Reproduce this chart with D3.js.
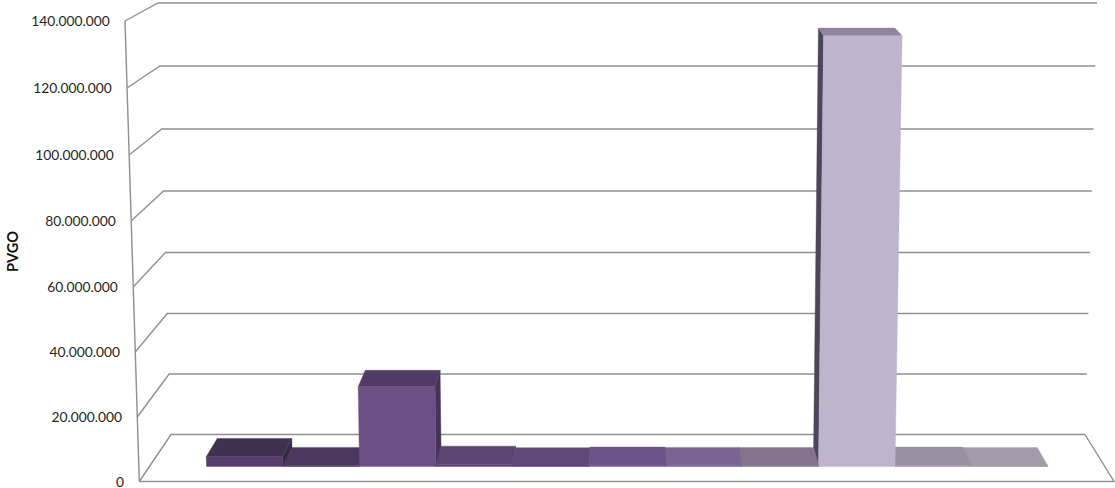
<!DOCTYPE html>
<html><head><meta charset="utf-8">
<script src="https://cdn.jsdelivr.net/npm/d3@7/dist/d3.min.js"></script>
<style>html,body{margin:0;padding:0;background:#fff}svg{display:block}text{font-family:Lato,"Open Sans",sans-serif}</style>
</head><body><svg id="c" width="1115" height="488"></svg>
<script>
const categories = ["1","2","3","4","5","6","7","8","9","10","11"];
const values = [3100000,200000,25200000,600000,100000,300000,200000,200000,133800000,300000,150000];
const tickValues = [0,20000000,40000000,60000000,80000000,100000000,120000000,140000000];
const tickLabels = ["0","20.000.000","40.000.000","60.000.000","80.000.000","100.000.000","120.000.000","140.000.000"];
const axisTitle = "PVGO";

const frontFills = ["#553e6b","#4a3860","#6c5085","#5a4470","#5f4a78","#6c5488","#796590","#82748e","#beb4ce","#9a90a2","#a39ba8"];
const topFills   = ["#3f3150","#4a3860","#503c66","#5a4470","#5f4a78","#6c5488","#796590","#82748e","#8e849e","#9a90a2","#a39ba8"];
const sideFills  = ["#35293f","#3c2d4e","#45345a","#4a3860","#4f3d66","#5a4670","#675780","#6e6278","#4c4658","#847a8c","#8d8592"];

const svg = d3.select("#c");
const frontY = d3.scaleLinear().domain(tickValues).range([481.5,417,352,287,221,155,88,21]);
const backY  = d3.scaleLinear().domain(tickValues).range([434.5,374,313.5,252.5,191,129,66,3]);
const frontX = d3.scaleLinear().domain([0,140000000]).range([139.3,125]);
const backLeftX  = d3.scaleLinear().domain([0,140000000]).range([171,158]);
const backRightX = d3.scaleLinear().domain([0,140000000]).range([1085,1097]);
const xBand = d3.scaleBand().domain(categories).range([206.5,1048]).padding(0);

const gridColor = "#8f8f8f";
const g = svg.append("g").attr("fill","none").attr("stroke",gridColor).attr("stroke-width",1.4);
tickValues.forEach(v=>{
  g.append("polyline").attr("points",[[frontX(v),frontY(v)],[backLeftX(v),backY(v)],[backRightX(v),backY(v)]].join(" "));
});
g.append("line").attr("x1",frontX(140000000)).attr("y1",frontY(140000000)).attr("x2",frontX(0)).attr("y2",frontY(0));
g.append("polyline").attr("points",[[frontX(0),frontY(0)],[1114,frontY(0)],[backRightX(0),backY(0)]].join(" "));

// projection of bars in the floor box
const vanishX = 630, fFront = 15/47, fBack = 33.5/47, depthShift = 0.026, riseSpread = 6.2e-5;
function project(b, v, back){
  const f = back ? fBack : fFront;
  const yy = frontY(v)*(1-f) + backY(v)*f;
  const y0 = frontY(0)*(1-f) + backY(0)*f;
  let x = back ? b + (vanishX-b)*depthShift : b;
  x = x + (x-vanishX)*riseSpread*(y0-yy);
  return [x,yy];
}
const rows = categories.map((c,i)=>({c,i,v:values[i],l:xBand(c),r:xBand(c)+xBand.bandwidth()}));
const order = rows.slice().sort((a,b)=>Math.abs((b.l+b.r)/2-vanishX)-Math.abs((a.l+a.r)/2-vanishX));
const bars = svg.append("g");
const face = (pts,fill,p)=>p.append("polygon").attr("points",pts.join(" ")).attr("fill",fill).attr("stroke",fill).attr("stroke-width",0.4);
order.forEach(d=>{
  const p = bars.append("g");
  const mid=(d.l+d.r)/2;
  if(mid<vanishX){
    face([project(d.r,0,false),project(d.r,d.v,false),project(d.r,d.v,true),project(d.r,0,true)],sideFills[d.i],p);
  } else {
    face([project(d.l,0,false),project(d.l,d.v,false),project(d.l,d.v,true),project(d.l,0,true)],sideFills[d.i],p);
  }
  face([project(d.l,d.v,false),project(d.r,d.v,false),project(d.r,d.v,true),project(d.l,d.v,true)],topFills[d.i],p);
  face([project(d.l,0,false),project(d.r,0,false),project(d.r,d.v,false),project(d.l,d.v,false)],frontFills[d.i],p);
});

svg.append("g").selectAll("text").data(tickValues).join("text")
  .attr("x",v=>frontX(v)-15.3).attr("y",v=>frontY(v)+0.5)
  .attr("dy","0.35em").attr("text-anchor","end").attr("font-size",13.8).attr("fill","#262626")
  .text((v,i)=>tickLabels[i]);
svg.append("text").attr("transform","translate(18,251.5) rotate(-90)").attr("text-anchor","middle")
  .attr("font-size",14.5).attr("font-weight",700).attr("fill","#111").text(axisTitle);
</script></body></html>
